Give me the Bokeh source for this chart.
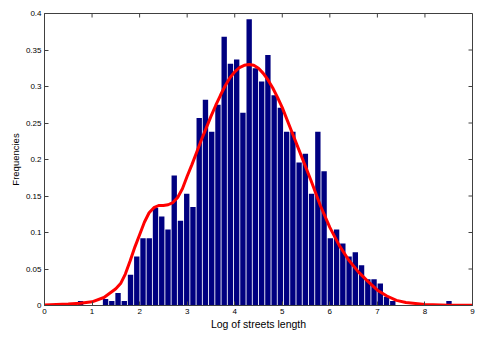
import numpy as np
from bokeh.plotting import figure
from bokeh.models import Range1d, FixedTicker
from bokeh.embed import file_html
from bokeh.resources import INLINE

# Histogram: 60 equal bins starting at bin_start
bin_start = 0.693
bin_width = 0.1313
frequencies = [
    0.006, 0.0, 0.0, 0.0, 0.009, 0.006, 0.017, 0.006, 0.042, 0.067,
    0.092, 0.092, 0.134, 0.122, 0.104, 0.178, 0.116, 0.153, 0.135, 0.257,
    0.282, 0.238, 0.275, 0.368, 0.331, 0.337, 0.264, 0.392, 0.325, 0.307,
    0.343, 0.288, 0.271, 0.238, 0.238, 0.196, 0.208, 0.153, 0.238, 0.184,
    0.092, 0.104, 0.085, 0.067, 0.073, 0.055, 0.036, 0.036, 0.030, 0.012,
    0.006, 0.0, 0.0, 0.0, 0.0, 0.0, 0.0, 0.0, 0.0, 0.006,
]

# Smoothed density curve
curve_x = [0.0, 0.5, 0.75, 1.0, 1.25, 1.5, 1.6, 1.7, 1.8, 1.9, 2.0, 2.1, 2.2, 2.3,
           2.4, 2.5, 2.6, 2.7, 2.8, 2.9, 3.0, 3.1, 3.2, 3.3, 3.4, 3.5, 3.6, 3.7,
           3.8, 3.9, 4.0, 4.1, 4.2, 4.3, 4.4, 4.5, 4.6, 4.7, 4.8, 4.9, 5.0, 5.2,
           5.4, 5.6, 5.8, 6.0, 6.2, 6.4, 6.6, 6.8, 7.0, 7.2, 7.4, 7.6, 8.0, 8.5, 9.0]
curve_y = [0.0008, 0.002, 0.003, 0.005, 0.011, 0.023, 0.030, 0.043, 0.061, 0.080,
           0.097, 0.114, 0.127, 0.134, 0.137, 0.137, 0.138, 0.141, 0.148, 0.160,
           0.177, 0.193, 0.210, 0.227, 0.243, 0.259, 0.274, 0.288, 0.301, 0.312,
           0.320, 0.326, 0.329, 0.330, 0.329, 0.325, 0.318, 0.309, 0.298, 0.285,
           0.271, 0.238, 0.205, 0.172, 0.137, 0.107, 0.082, 0.062, 0.046, 0.033,
           0.021, 0.013, 0.007, 0.004, 0.0015, 0.0005, 0.0002]

x_ticks = [0, 1, 2, 3, 4, 5, 6, 7, 8, 9]
y_ticks = [0, 0.05, 0.1, 0.15, 0.2, 0.25, 0.3, 0.35, 0.4]
y_tick_labels = ["0", "0.05", "0.1", "0.15", "0.2", "0.25", "0.3", "0.35", "0.4"]

centers = bin_start + bin_width * (np.arange(len(frequencies)) + 0.5)

FONT = "Liberation Sans"
FRAME = "#404040"
X0, X1 = 0, 9
Y0, Y1 = 0, 0.4

p = figure(width=484, height=341, output_backend="svg", toolbar_location=None,
           x_range=Range1d(X0, X1), y_range=Range1d(Y0, Y1),
           min_border_left=44, min_border_right=12, min_border_top=13,
           min_border_bottom=36)
p.background_fill_color = "white"
p.border_fill_color = "white"
p.outline_line_color = FRAME
p.outline_line_width = 1
p.xgrid.grid_line_color = None
p.ygrid.grid_line_color = None

p.vbar(x=centers, top=frequencies, width=bin_width * 0.86, bottom=0,
       fill_color="#000080", line_color=None)
p.line(curve_x, curve_y, line_color="#FF0000", line_width=3)

# tick marks on the top and right edges of the box
p.ray(x=x_ticks, y=[Y1] * len(x_ticks), length=4, length_units="screen",
      angle=-np.pi / 2, line_color=FRAME, line_width=1)
p.ray(x=[X1] * len(y_ticks), y=y_ticks, length=4, length_units="screen",
      angle=np.pi, line_color=FRAME, line_width=1)

def style_axis(ax, ticks):
    ax.ticker = FixedTicker(ticks=ticks)
    ax.major_tick_in = 4
    ax.major_tick_out = 0
    ax.minor_tick_line_color = None
    ax.axis_line_color = FRAME
    ax.major_tick_line_color = FRAME
    ax.major_label_text_font = FONT
    ax.major_label_text_color = "black"
    ax.major_label_text_font_size = "8px"
    ax.major_label_standoff = 3

xa = p.xaxis[0]
ya = p.yaxis[0]
style_axis(xa, x_ticks)
style_axis(ya, y_ticks)
ya.major_label_overrides = {t: l for t, l in zip(y_ticks, y_tick_labels)}
xa.axis_label = "Log of streets length"
ya.axis_label = "Frequencies"
for ax, sz in ((xa, "10.5px"), (ya, "9.5px")):
    ax.axis_label_text_font = FONT
    ax.axis_label_text_font_size = sz
    ax.axis_label_text_font_style = "normal"
    ax.axis_label_text_color = "black"
xa.axis_label_standoff = 1
ya.axis_label_standoff = 2

open("out.html", "w").write(file_html(p, INLINE))
